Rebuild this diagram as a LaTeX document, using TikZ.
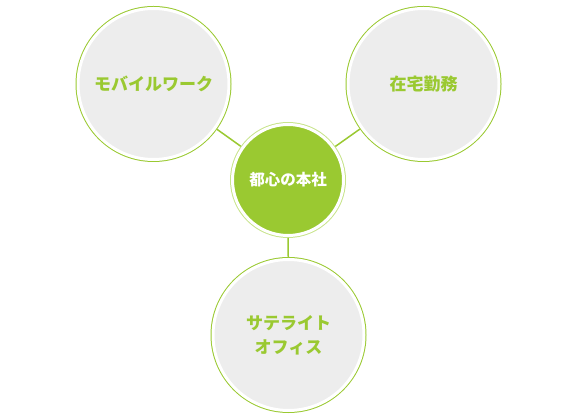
\documentclass[tikz,border=0pt]{standalone}
\usepackage{fontspec}
\newfontfamily\jp{Noto Sans CJK JP}
\definecolor{leafgreen}{RGB}{154,201,49}
\definecolor{palegreen}{RGB}{200,228,140}
\definecolor{bubblegray}{RGB}{237,237,237}

\begin{document}
\begin{tikzpicture}[x=1pt, y=1pt,
    bubble/.style = {circle, inner sep = 0pt, outer sep = 2.5pt,
        minimum size = 151pt, fill = bubblegray,
        draw = white, line width = 3pt,
        preaction = {draw = leafgreen, line width = 5pt},
        text = leafgreen, align = center,
        font = \jp\bfseries\fontsize{17}{24}\selectfont},
    hub/.style = {circle, inner sep = 0pt, outer sep = 2.5pt,
        minimum size = 111pt, fill = leafgreen,
        draw = white, line width = 3pt,
        preaction = {draw = palegreen, line width = 5pt},
        text = white,
        font = \jp\bfseries\fontsize{15.5}{18}\selectfont},
    link/.style = {leafgreen, line width = 1.5pt}]
    \useasboundingbox (0,0) rectangle (570,420);
    \draw (288,240) node(HQ) [hub] {都心の本社};
    \draw (153.5,336) node(M) [bubble] {モバイルワーク};
    \draw (423.5,336) node(H) [bubble] {在宅勤務};
    \draw (288.5,85) node(S) [bubble] {サテライト\\オフィス};
    % connectors
    \draw [link] (HQ) -- (M);
    \draw [link] (HQ) -- (H);
    \draw [link] (HQ) -- (S);
\end{tikzpicture}
\end{document}
